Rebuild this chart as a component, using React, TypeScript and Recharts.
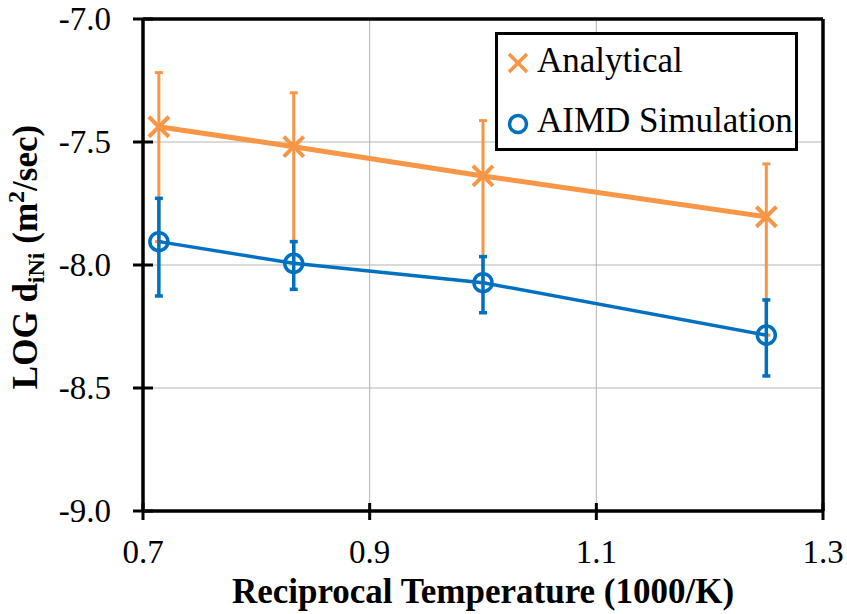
import React from 'react';
import { LineChart, Line, XAxis, YAxis, CartesianGrid, ErrorBar, ReferenceLine, Legend, Label } from 'recharts';

const temps = [0.714, 0.833, 1.0, 1.25];
const analytical = [-7.438, -7.519, -7.638, -7.804];
const analyticalHigh = [-7.218, -7.3, -7.413, -7.589];
const analyticalLow = [-7.905, -7.993, -8.072, -8.285];
const aimd = [-7.905, -7.993, -8.072, -8.285];
const aimdHigh = [-7.729, -7.905, -7.966, -8.142];
const aimdLow = [-8.126, -8.099, -8.194, -8.451];
const xTicks = [0.7, 0.9, 1.1, 1.3];
const yTicks = [-9.0, -8.5, -8.0, -7.5, -7.0];

const ORANGE = '#F79646';
const BLUE = '#0070C0';
const FONT = 'Liberation Serif';

const data = temps.map((t, i) => ({
  x: t,
  analytical: analytical[i],
  errA: [analytical[i] - analyticalLow[i], analyticalHigh[i] - analytical[i]],
  aimd: aimd[i],
  errB: [aimd[i] - aimdLow[i], aimdHigh[i] - aimd[i]],
}));

const CrossDot = (props: any) => {
  const { cx, cy } = props;
  if (cx == null || cy == null) return null;
  const s = 10;
  return (
    <g>
      <line x1={cx - s} y1={cy - s} x2={cx + s} y2={cy + s} stroke={ORANGE} strokeWidth={4} />
      <line x1={cx - s} y1={cy + s} x2={cx + s} y2={cy - s} stroke={ORANGE} strokeWidth={4} />
    </g>
  );
};

const CircleDot = (props: any) => {
  const { cx, cy } = props;
  if (cx == null || cy == null) return null;
  return <circle cx={cx} cy={cy} r={9} fill="none" stroke={BLUE} strokeWidth={3.5} />;
};

const txtStyle = { fontFamily: FONT };

const YTick = (props: any) => {
  const { x, y, payload } = props;
  return (
    <g>
      <line x1={x - 10} y1={y} x2={x + 10} y2={y} stroke="#000" strokeWidth={3} />
      <text x={x - 32} y={y + 11} textAnchor="end" style={txtStyle} fontSize={33} fill="#000">
        {Number(payload.value).toFixed(1)}
      </text>
    </g>
  );
};

const XTick = (props: any) => {
  const { x, y, payload } = props;
  return (
    <g>
      <line x1={x} y1={y - 8} x2={x} y2={y + 9} stroke="#000" strokeWidth={3} />
      <text x={x} y={y + 52} textAnchor="middle" style={txtStyle} fontSize={33} fill="#000">
        {Number(payload.value).toFixed(1)}
      </text>
    </g>
  );
};

const YTitle = (props: any) => {
  const vb = props.viewBox || { x: 0, y: 19, width: 143, height: 492 };
  const cx = 37;
  const cy = vb.y + vb.height / 2 - 8;
  return (
    <text
      x={cx}
      y={cy}
      transform={`rotate(-90, ${cx}, ${cy})`}
      textAnchor="middle"
      style={txtStyle}
      fontWeight="bold"
      fontSize={35}
      fill="#000"
    >
      LOG d
      <tspan fontSize={24} dy={7}>iNi</tspan>
      <tspan dy={-7}> (m</tspan>
      <tspan fontSize={24} dy={-13}>2</tspan>
      <tspan dy={13}>/sec)</tspan>
    </text>
  );
};

const XTitle = (props: any) => {
  const vb = props.viewBox || { x: 143, y: 511, width: 680, height: 103 };
  return (
    <text
      x={vb.x + vb.width / 2}
      y={603}
      textAnchor="middle"
      style={txtStyle}
      fontWeight="bold"
      fontSize={35}
      fill="#000"
    >
      Reciprocal Temperature (1000/K)
    </text>
  );
};

const LegendBox = () => (
  <div
    style={{
      position: 'relative',
      width: 303,
      height: 119,
      boxSizing: 'border-box',
      border: '3.5px solid #000',
      background: '#fff',
      fontFamily: FONT,
      fontSize: 35,
      color: '#000',
    }}
  >
    <svg width={303} height={119} style={{ position: 'absolute', left: -3.5, top: -3.5 }}>
      <line x1={14} y1={22} x2={32} y2={40} stroke={ORANGE} strokeWidth={3.5} />
      <line x1={14} y1={40} x2={32} y2={22} stroke={ORANGE} strokeWidth={3.5} />
      <circle cx={23} cy={92} r={8.5} fill="none" stroke={BLUE} strokeWidth={3.5} />
      <text x={42} y={40} style={txtStyle} fontSize={35} fill="#000">Analytical</text>
      <text x={42} y={100} style={txtStyle} fontSize={35} fill="#000">AIMD Simulation</text>
    </svg>
  </div>
);

export default function App() {
  return (
    <div style={{ position: 'absolute', left: 0, top: 0, width: 847, height: 614, background: '#fff' }}>
      <LineChart width={847} height={614} data={data} margin={{ top: 19, right: 24, left: 0, bottom: 0 }}>
        <CartesianGrid stroke="#b4b4b4" strokeWidth={1} />
        <XAxis
          type="number"
          dataKey="x"
          domain={[0.7, 1.3]}
          ticks={xTicks}
          interval={0}
          height={103}
          axisLine={{ stroke: '#000', strokeWidth: 3.5 }}
          tickLine={false}
          tickSize={0}
          tickMargin={0}
          tick={<XTick />}
          allowDataOverflow
        >
          <Label content={<XTitle />} />
        </XAxis>
        <YAxis
          type="number"
          domain={[-9, -7]}
          ticks={yTicks}
          interval={0}
          width={143}
          axisLine={{ stroke: '#000', strokeWidth: 3.5 }}
          tickLine={false}
          tickSize={0}
          tickMargin={0}
          tick={<YTick />}
          allowDataOverflow
        >
          <Label content={<YTitle />} />
        </YAxis>
        <ReferenceLine y={-7} stroke="#000" strokeWidth={3.5} />
        <ReferenceLine x={1.3} stroke="#000" strokeWidth={3.5} />
        <Legend
          layout="horizontal"
          verticalAlign="middle"
          align="center"
          content={<LegendBox />}
          wrapperStyle={{ position: 'absolute', left: 495, top: 32, width: 303, height: 119, right: 'auto', bottom: 'auto' }}
        />
        <Line
          dataKey="analytical"
          name="Analytical"
          stroke={ORANGE}
          strokeWidth={5}
          dot={<CrossDot />}
          activeDot={false}
          isAnimationActive={false}
        >
          <ErrorBar dataKey="errA" direction="y" width={4} stroke={ORANGE} strokeWidth={3} isAnimationActive={false} />
        </Line>
        <Line
          dataKey="aimd"
          name="AIMD Simulation"
          stroke={BLUE}
          strokeWidth={3.5}
          dot={<CircleDot />}
          activeDot={false}
          isAnimationActive={false}
        >
          <ErrorBar dataKey="errB" direction="y" width={4} stroke={BLUE} strokeWidth={3.5} isAnimationActive={false} />
        </Line>
      </LineChart>
    </div>
  );
}
